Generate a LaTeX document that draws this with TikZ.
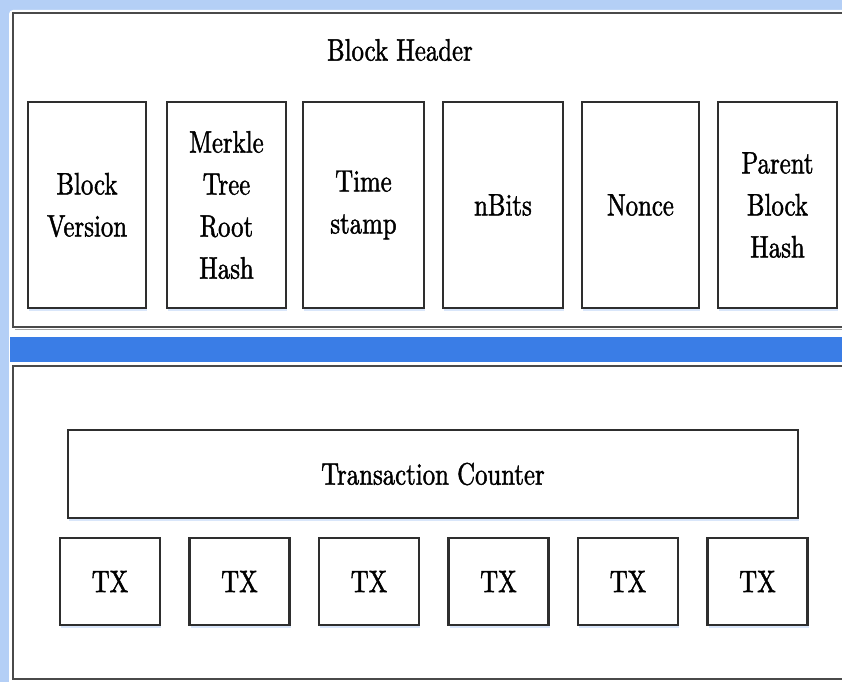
\documentclass[tikz,border=0pt]{standalone}
\usepackage{fontspec}
\newfontfamily\lmfb[FakeBold=1.4,FakeStretch=0.80]{lmroman10-regular.otf}
\usetikzlibrary{shadows}
\definecolor{framebg}{HTML}{B4CFF6}
\definecolor{bandblue}{HTML}{3A7DE6}
\definecolor{panelline}{HTML}{4A4A4A}
\definecolor{boxline}{HTML}{2E2E2E}
\tikzset{
  fieldbox/.style={draw=boxline, line width=2.6pt, fill=white, minimum height=206pt,
    align=center, inner sep=0pt, font=\lmfb\fontsize{31}{42}\selectfont,
    drop shadow={shadow xshift=1pt, shadow yshift=-3pt, fill=framebg, opacity=0.5}},
  txbox/.style={draw=boxline, line width=2.6pt, fill=white, minimum width=100pt, minimum height=87pt,
    align=center, inner sep=0pt, font=\lmfb\fontsize{31}{42}\selectfont,
    drop shadow={shadow xshift=1pt, shadow yshift=-3pt, fill=framebg, opacity=0.5}},
  panel/.style={draw=panelline, line width=2.6pt, fill=white},
  titletext/.style={font=\lmfb\fontsize{31}{42}\selectfont, inner sep=0pt}
}
\begin{document}
\begin{tikzpicture}[x=1pt,y=-1pt]
\useasboundingbox (0,0) rectangle (842,682);
% window frame
\fill[framebg] (0,0) rectangle (842,682);
\fill[white, rounded corners=4pt] (9,10) rectangle (860,700);
% top panel
\draw[panel] (13,13) rectangle (860,327);
\draw[gray!70, line width=1.5pt] (15,329.5) -- (860,329.5);
% blue band
\fill[bandblue] (10,337) rectangle (842,362);
% bottom panel
\draw[panel] (13,366) rectangle (860,679);
% block header
\node[titletext] (hdr) at (400,50) {Block Header};
\node[fieldbox, minimum width=118pt] (ver)   at (87,205)    {Block\\Version};
\node[fieldbox, minimum width=119pt] (merk)  at (226.5,205) {Merkle\\Tree\\Root\\Hash};
\node[fieldbox, minimum width=121pt] (time)  at (363.5,205) {Time\\stamp};
\node[fieldbox, minimum width=120pt] (bits)  at (503,205)   {nBits};
\node[fieldbox, minimum width=117pt] (nonce) at (640.5,205) {Nonce};
\node[fieldbox, minimum width=119pt] (par)   at (777.5,205) {Parent\\Block\\Hash};
% transactions
\node[txbox, minimum width=730pt, minimum height=88pt] (cnt) at (433,474) {Transaction Counter};
\node[txbox] (tx1) at (110,581.5)   {TX};
\node[txbox] (tx2) at (239.5,581.5) {TX};
\node[txbox] (tx3) at (369,581.5)   {TX};
\node[txbox] (tx4) at (498.5,581.5) {TX};
\node[txbox] (tx5) at (628,581.5)   {TX};
\node[txbox] (tx6) at (757.5,581.5) {TX};
\end{tikzpicture}
\end{document}
